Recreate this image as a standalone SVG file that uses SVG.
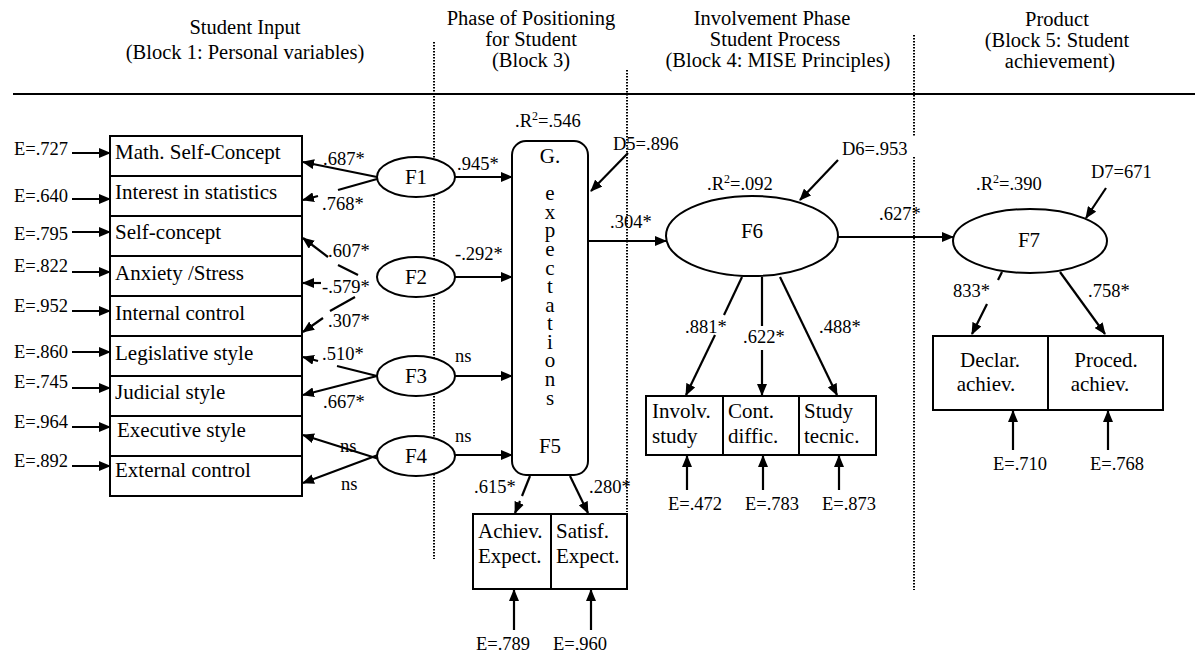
<svg xmlns="http://www.w3.org/2000/svg" width="1195" height="652" viewBox="0 0 1195 652" font-family="'Liberation Serif','Times New Roman',serif">
<style>
text{font-family:"Liberation Serif","Times New Roman",serif;fill:#000}
.t{font-size:21px}
.l{font-size:18.5px}
.h{font-size:20.5px;text-anchor:middle}
.m{text-anchor:middle}
.box{fill:#fff;stroke:#000;stroke-width:2}
.c{stroke:#000;stroke-width:2.2;fill:none}
.a{marker-end:url(#ah)}
.dot{stroke:#000;stroke-width:2;stroke-dasharray:1.5 1.5;fill:none}
</style>
<defs>
<marker id="ah" markerUnits="userSpaceOnUse" markerWidth="13" markerHeight="10" refX="11" refY="5" orient="auto"><path d="M0,0 L12,5 L0,10 z" fill="#000"/></marker>
</defs>
<rect width="1195" height="652" fill="#fff"/>
<g id="headers">
<text class="h" x="245" y="34">Student Input</text>
<text class="h" x="245" y="59">(Block 1: Personal variables)</text>
<text class="h" x="531" y="25">Phase of Positioning</text>
<text class="h" x="531" y="46">for Student</text>
<text class="h" x="531" y="67">(Block 3)</text>
<text class="h" x="772" y="25">Involvement Phase</text>
<text class="h" x="775" y="46">Student Process</text>
<text class="h" x="778" y="67">(Block 4: MISE Principles)</text>
<text class="h" x="1057" y="26">Product</text>
<text class="h" x="1057" y="47">(Block 5: Student</text>
<text class="h" x="1060" y="68">achievement)</text>
<line x1="13" y1="94" x2="1195" y2="94" stroke="#000" stroke-width="2"/>
<line class="dot" x1="434" y1="42" x2="434" y2="559"/>
<line class="dot" x1="627" y1="70" x2="627" y2="512"/>
<line class="dot" x1="914" y1="35" x2="914" y2="137"/>
<line class="dot" x1="914" y1="157" x2="914" y2="590"/>
</g>
<g id="connectors">
<line class="c a" x1="72" y1="153" x2="110" y2="153"/>
<line class="c a" x1="72" y1="199" x2="110" y2="199"/>
<line class="c a" x1="72" y1="232" x2="110" y2="232"/>
<line class="c a" x1="72" y1="272" x2="110" y2="272"/>
<line class="c a" x1="72" y1="311" x2="110" y2="311"/>
<line class="c a" x1="72" y1="352" x2="110" y2="352"/>
<line class="c a" x1="72" y1="388" x2="110" y2="388"/>
<line class="c a" x1="72" y1="427" x2="110" y2="427"/>
<line class="c a" x1="72" y1="466" x2="110" y2="466"/>
<line class="c a" x1="377" y1="177" x2="303" y2="162"/>
<line class="c" x1="377" y1="179" x2="338" y2="190"/>
<line class="c a" x1="318" y1="196" x2="303" y2="200"/>
<line class="c" x1="358" y1="275" x2="338" y2="265"/>
<line class="c a" x1="328" y1="257" x2="303" y2="238"/>
<line class="c a" x1="321" y1="283" x2="303" y2="283"/>
<line class="c" x1="355" y1="297" x2="330" y2="311"/>
<line class="c a" x1="323" y1="318" x2="303" y2="332"/>
<line class="c" x1="377" y1="376" x2="337" y2="366"/>
<line class="c a" x1="318" y1="361" x2="303" y2="357"/>
<line class="c a" x1="377" y1="376" x2="303" y2="395"/>
<line class="c a" x1="379" y1="459" x2="303" y2="435"/>
<line class="c a" x1="378" y1="455" x2="303" y2="483"/>
<line class="c a" x1="455" y1="177" x2="512" y2="177"/>
<line class="c a" x1="455" y1="277" x2="512" y2="277"/>
<line class="c a" x1="455" y1="376" x2="512" y2="376"/>
<line class="c a" x1="455" y1="455" x2="512" y2="455"/>
<line class="c" x1="530" y1="476" x2="522" y2="496"/>
<line class="c a" x1="520" y1="501" x2="515" y2="513"/>
<line class="c a" x1="570" y1="476" x2="588" y2="513"/>
<line class="c a" x1="514" y1="630" x2="514" y2="590"/>
<line class="c a" x1="591" y1="630" x2="591" y2="590"/>
<line class="c a" x1="628" y1="153" x2="591" y2="191"/>
<line class="c a" x1="588" y1="241" x2="666" y2="241"/>
<line class="c a" x1="838" y1="160" x2="800" y2="200"/>
<line class="c" x1="742" y1="277" x2="724" y2="315"/>
<line class="c a" x1="715" y1="335" x2="686" y2="395"/>
<line class="c" x1="762" y1="277" x2="762" y2="326"/>
<line class="c a" x1="762" y1="350" x2="762" y2="395"/>
<line class="c a" x1="780" y1="277" x2="837" y2="395"/>
<line class="c a" x1="687" y1="490" x2="687" y2="456"/>
<line class="c a" x1="763" y1="490" x2="763" y2="456"/>
<line class="c a" x1="839" y1="490" x2="839" y2="456"/>
<line class="c a" x1="838" y1="237" x2="953" y2="237"/>
<line class="c a" x1="1106" y1="188" x2="1086" y2="218"/>
<line class="c" x1="1002" y1="272" x2="998" y2="280"/>
<line class="c a" x1="987" y1="304" x2="972" y2="334"/>
<line class="c a" x1="1060" y1="272" x2="1105" y2="334"/>
<line class="c a" x1="1013" y1="450" x2="1013" y2="411"/>
<line class="c a" x1="1108" y1="450" x2="1108" y2="411"/>
</g>
<g id="labels">
<text class="l" x="14" y="155">E=.727</text>
<text class="l" x="14" y="202">E=.640</text>
<text class="l" x="14" y="240">E=.795</text>
<text class="l" x="14" y="272">E=.822</text>
<text class="l" x="14" y="312">E=.952</text>
<text class="l" x="14" y="358">E=.860</text>
<text class="l" x="14" y="388">E=.745</text>
<text class="l" x="14" y="428">E=.964</text>
<text class="l" x="14" y="467">E=.892</text>
<text class="l" x="323" y="165">.687*</text>
<text class="l" x="322" y="210">.768*</text>
<text class="l" x="328" y="257">.607*</text>
<text class="l" x="322" y="293">-.579*</text>
<text class="l" x="328" y="327">.307*</text>
<text class="l" x="322" y="360">.510*</text>
<text class="l" x="323" y="408">.667*</text>
<text class="l" x="340" y="452">ns</text>
<text class="l" x="341" y="490">ns</text>
<text class="l" x="457" y="170">.945*</text>
<text class="l" x="455" y="260">-.292*</text>
<text class="l" x="455" y="362">ns</text>
<text class="l" x="455" y="442">ns</text>
<text class="l" x="515" y="127">.R<tspan dy="-7" font-size="12">2</tspan><tspan dy="7">=.546</tspan></text>
<text class="l" x="613" y="150">D5=.896</text>
<text class="l" x="610" y="228">.304*</text>
<text class="l" x="474" y="493">.615*</text>
<text class="l" x="589" y="493">.280*</text>
<text class="l" x="476" y="650">E=.789</text>
<text class="l" x="553" y="650">E=.960</text>
<text class="l" x="707" y="190">.R<tspan dy="-7" font-size="12">2</tspan><tspan dy="7">=.092</tspan></text>
<text class="l" x="842" y="155">D6=.953</text>
<text class="l" x="685" y="333">.881*</text>
<text class="l" x="743" y="343">.622*</text>
<text class="l" x="819" y="333">.488*</text>
<text class="l" x="668" y="510">E=.472</text>
<text class="l" x="745" y="510">E=.783</text>
<text class="l" x="822" y="510">E=.873</text>
<text class="l" x="879" y="220">.627*</text>
<text class="l" x="976" y="190">.R<tspan dy="-7" font-size="12">2</tspan><tspan dy="7">=.390</tspan></text>
<text class="l" x="1091" y="178">D7=671</text>
<text class="l" x="953" y="297">833*</text>
<text class="l" x="1088" y="297">.758*</text>
<text class="l" x="993" y="470">E=.710</text>
<text class="l" x="1090" y="470">E=.768</text>
</g>
<g id="n-math"><rect class="box" x="110" y="136" width="192" height="40"/><text class="t" x="115" y="159">Math. Self-Concept</text></g>
<g id="n-interest"><rect class="box" x="110" y="176" width="192" height="40"/><text class="t" x="115" y="199">Interest in statistics</text></g>
<g id="n-selfconcept"><rect class="box" x="110" y="216" width="192" height="40"/><text class="t" x="115" y="239">Self-concept</text></g>
<g id="n-anxiety"><rect class="box" x="110" y="256" width="192" height="40"/><text class="t" x="115" y="280">Anxiety /Stress</text></g>
<g id="n-internal"><rect class="box" x="110" y="296" width="192" height="40"/><text class="t" x="115" y="320">Internal control</text></g>
<g id="n-legislative"><rect class="box" x="110" y="336" width="192" height="40"/><text class="t" x="115" y="360">Legislative style</text></g>
<g id="n-judicial"><rect class="box" x="110" y="376" width="192" height="40"/><text class="t" x="115" y="399">Judicial style</text></g>
<g id="n-executive"><rect class="box" x="110" y="416" width="192" height="40"/><text class="t" x="117" y="437">Executive style</text></g>
<g id="n-external"><rect class="box" x="110" y="456" width="192" height="40"/><text class="t" x="115" y="477">External control</text></g>
<g id="n-F1"><ellipse class="box" cx="416" cy="177" rx="39" ry="20"/><text class="t m" x="416" y="184">F1</text></g>
<g id="n-F2"><ellipse class="box" cx="416" cy="277" rx="39" ry="20"/><text class="t m" x="416" y="284">F2</text></g>
<g id="n-F3"><ellipse class="box" cx="416" cy="376" rx="39" ry="20"/><text class="t m" x="416" y="383">F3</text></g>
<g id="n-F4"><ellipse class="box" cx="416" cy="456" rx="39" ry="20"/><text class="t m" x="416" y="463">F4</text></g>
<g id="n-F5">
<rect class="box" x="512" y="141" width="76" height="334" rx="14"/>
<text class="t m" x="550" y="163">G.<tspan x="550" y="200">e</tspan><tspan x="550" y="219">x</tspan><tspan x="550" y="237">p</tspan><tspan x="550" y="256">e</tspan><tspan x="550" y="275">c</tspan><tspan x="550" y="293">t</tspan><tspan x="550" y="312">a</tspan><tspan x="550" y="330">t</tspan><tspan x="550" y="349">i</tspan><tspan x="550" y="367">o</tspan><tspan x="550" y="386">n</tspan><tspan x="550" y="405">s</tspan><tspan x="550" y="453">F5</tspan></text>
</g>
<g id="n-achiev"><rect class="box" x="473" y="514" width="78" height="75"/><text class="t" x="478" y="538">Achiev.</text><text class="t" x="478" y="563">Expect.</text></g>
<g id="n-satisf"><rect class="box" x="551" y="514" width="76" height="75"/><text class="t" x="556" y="538">Satisf.</text><text class="t" x="556" y="563">Expect.</text></g>
<g id="n-F6"><ellipse class="box" cx="752" cy="236" rx="86" ry="40"/><text class="t m" x="752" y="238">F6</text></g>
<g id="n-involv"><rect class="box" x="646" y="396" width="77" height="59"/><text class="t" x="652" y="418">Involv.</text><text class="t" x="652" y="443">study</text></g>
<g id="n-cont"><rect class="box" x="723" y="396" width="76" height="59"/><text class="t" x="728" y="418">Cont.</text><text class="t" x="728" y="443">diffic.</text></g>
<g id="n-studytec"><rect class="box" x="799" y="396" width="77" height="59"/><text class="t" x="804" y="418">Study</text><text class="t" x="804" y="443">tecnic.</text></g>
<g id="n-F7"><ellipse class="box" cx="1030" cy="241" rx="77" ry="32"/><text class="t m" x="1029" y="247">F7</text></g>
<g id="n-declar"><rect class="box" x="933" y="336" width="115" height="74"/><text class="t m" x="990" y="367">Declar.</text><text class="t m" x="986" y="391">achiev.</text></g>
<g id="n-proced"><rect class="box" x="1048" y="336" width="115" height="74"/><text class="t m" x="1106" y="367">Proced.</text><text class="t m" x="1100" y="391">achiev.</text></g>
</svg>
